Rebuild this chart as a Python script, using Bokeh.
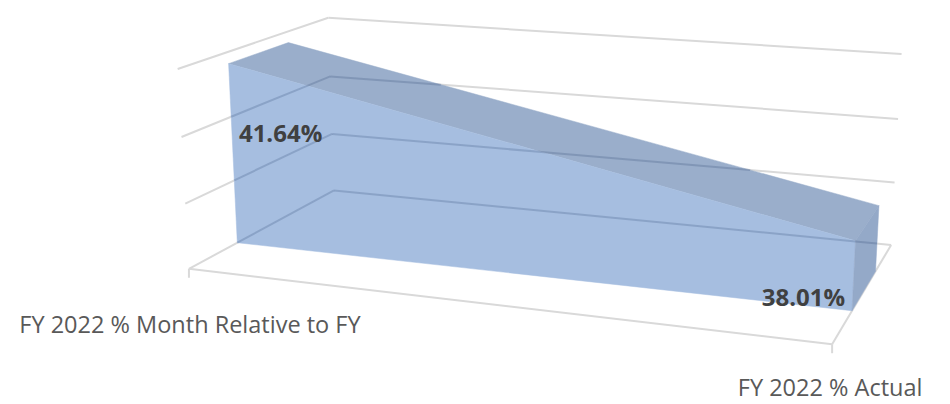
import numpy as np
from bokeh.plotting import figure
from bokeh.models import Range1d
from bokeh.embed import file_html
from bokeh.resources import INLINE
from bokeh.core.properties import value

# ---------------- data ----------------
categories = ["FY 2022 % Month Relative to FY", "FY 2022 % Actual"]
values = [41.64, 38.01]
data_labels = ["41.64%", "38.01%"]
axis_min = 36.0
axis_max = 42.0
axis_step = 2.0

# ---------------- layout (3D camera fitted to box anchors) ----------------
# world: u = category position (0..1), v = normalised value (0..1), w = depth (0 front .. 1 back)
ANCHOR_WORLD = [
    (0, 0, 0), (0, 1/3, 0), (0, 2/3, 0), (0, 1, 0),
    (0, 0, 1), (0, 1/3, 1), (0, 2/3, 1), (0, 1, 1),
    (1, 0, 1), (1, 1/3, 1), (1, 2/3, 1), (1, 1, 1),
    (1, 0, 0),
]
ANCHOR_SCREEN = [
    (188, 268), (185, 203), (181, 137), (177, 69),
    (333, 190), (332, 133), (331, 76), (327, 17),
    (890, 245), (895, 183), (897, 118), (901, 53),
    (832, 343),
]
SERIES_DEPTH = (0.30, 0.70)
TICK_LEN = 9
DATA_LABEL_OFFSETS = [(52, 69), (-52, 56)]
CAT_LABEL_OFFSETS = [(1, 55), (-2, 43)]

GRID_COLOR = "#D9D9D9"
FRONT_COLOR = "#A6BEE0"
TOP_COLOR = "#9AAECB"
SIDE_COLOR = "#94A9C8"
GHOST_COLOR = "#1F3864"


def fit_camera(world, screen):
    rows = []
    for (X, Y, Z), (x, y) in zip(world, screen):
        x /= 1000.0
        y /= 1000.0
        rows.append([X, Y, Z, 1, 0, 0, 0, 0, -x * X, -x * Y, -x * Z, -x])
        rows.append([0, 0, 0, 0, X, Y, Z, 1, -y * X, -y * Y, -y * Z, -y])
    _, _, vt = np.linalg.svd(np.array(rows, dtype=float))
    return vt[-1].reshape(3, 4)


P = fit_camera(ANCHOR_WORLD, ANCHOR_SCREEN)


def proj(u, v, w):
    h = P @ np.array([u, v, w, 1.0])
    return (h[0] / h[2] * 1000.0, h[1] / h[2] * 1000.0)


def clip_segment(p0, p1, poly):
    n = len(poly)
    area = sum(poly[i][0] * poly[(i + 1) % n][1] - poly[(i + 1) % n][0] * poly[i][1] for i in range(n))
    sgn = 1.0 if area > 0 else -1.0
    t0, t1 = 0.0, 1.0
    d = (p1[0] - p0[0], p1[1] - p0[1])
    for i in range(n):
        a = poly[i]
        b = poly[(i + 1) % n]
        e = (b[0] - a[0], b[1] - a[1])
        f0 = sgn * (e[0] * (p0[1] - a[1]) - e[1] * (p0[0] - a[0]))
        fd = sgn * (e[0] * d[1] - e[1] * d[0])
        if abs(fd) < 1e-12:
            if f0 < 0:
                return None
        else:
            t = -f0 / fd
            if fd > 0:
                t0 = max(t0, t)
            else:
                t1 = min(t1, t)
    if t1 - t0 < 1e-6:
        return None
    return ((p0[0] + t0 * d[0], p0[1] + t0 * d[1]), (p0[0] + t1 * d[0], p0[1] + t1 * d[1]))


n_cat = len(categories)
us = [i / (n_cat - 1) for i in range(n_cat)]
nv = [(val - axis_min) / (axis_max - axis_min) for val in values]
levels = list(np.arange(axis_min, axis_max + axis_step / 2, axis_step))
lv = [(l - axis_min) / (axis_max - axis_min) for l in levels]

# gridline segments (world)
segs_world = []
for v in lv:
    segs_world.append(((0, v, 1), (1, v, 1)))   # back wall
    segs_world.append(((0, v, 0), (0, v, 1)))   # side wall
segs_world.append(((0, 0, 0), (1, 0, 0)))       # floor front
segs_world.append(((1, 0, 0), (1, 0, 1)))       # floor right
segs = [(proj(*a), proj(*b)) for a, b in segs_world]

p = figure(width=950, height=404, x_range=Range1d(0, 950), y_range=Range1d(404, 0),
           output_backend="svg", toolbar_location=None, min_border=0)
p.axis.visible = False
p.grid.visible = False
p.outline_line_color = None
p.background_fill_color = "white"
p.border_fill_color = "white"

p.multi_line(xs=[[a[0], b[0]] for a, b in segs], ys=[[a[1], b[1]] for a, b in segs],
             line_color=GRID_COLOR, line_width=2)

# category tick marks
for u in us:
    x0, y0 = proj(u, 0, 0)
    p.segment(x0=[x0], y0=[y0], x1=[x0], y1=[y0 + TICK_LEN], line_color=GRID_COLOR, line_width=2)

# area faces
wf, wb = SERIES_DEPTH
faces = []
for i in range(n_cat - 1):
    u0, u1 = us[i], us[i + 1]
    v0, v1 = nv[i], nv[i + 1]
    faces.append(([proj(u0, v0, wf), proj(u0, v0, wb), proj(u1, v1, wb), proj(u1, v1, wf)], TOP_COLOR))
    faces.append(([proj(u0, 0, wf), proj(u0, v0, wf), proj(u1, v1, wf), proj(u1, 0, wf)], FRONT_COLOR))
side = [proj(us[-1], 0, wf), proj(us[-1], nv[-1], wf), proj(us[-1], nv[-1], wb), proj(us[-1], 0, wb)]
faces.append((side, SIDE_COLOR))

for poly, col in faces:
    p.patch(x=[q[0] for q in poly], y=[q[1] for q in poly], fill_color=col, line_color=col,
            line_width=0.5)

# gridlines showing through the translucent area
gx, gy = [], []
for a, b in segs:
    for poly, _ in faces:
        c = clip_segment(a, b, poly)
        if c:
            gx.append([c[0][0], c[1][0]])
            gy.append([c[0][1], c[1][1]])
p.multi_line(xs=gx, ys=gy, line_color=GHOST_COLOR, line_alpha=0.2, line_width=2)

# data labels
lx, ly = [], []
for u, v, (dx, dy) in zip(us, nv, DATA_LABEL_OFFSETS):
    x0, y0 = proj(u, v, wf)
    lx.append(x0 + dx)
    ly.append(y0 + dy)
p.text(x=lx, y=ly, text=data_labels, text_font=value("Open Sans"), text_font_size="24px",
       text_font_style="bold", text_color="#404040", text_align="center", text_baseline="middle")

# category labels
cx, cy = [], []
for u, (dx, dy) in zip(us, CAT_LABEL_OFFSETS):
    x0, y0 = proj(u, 0, 0)
    cx.append(x0 + dx)
    cy.append(y0 + dy)
p.text(x=cx, y=cy, text=categories, text_font=value("Open Sans"), text_font_size="23.5px",
       text_color="#595959", text_align="center", text_baseline="middle")

open("out.html", "w").write(file_html(p, INLINE))
